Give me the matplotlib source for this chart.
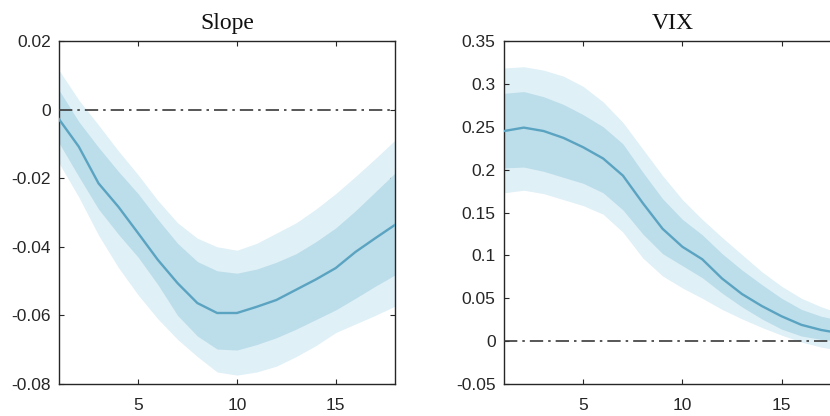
import matplotlib
matplotlib.use("Agg")
import matplotlib.pyplot as plt
import numpy as np

# ---------------- data ----------------
horizon = list(range(1, 19))

slope_median = [-0.0028, -0.0108, -0.0215, -0.0283, -0.0360, -0.0438, -0.0506, -0.0564, -0.0593,
                -0.0593, -0.0575, -0.0555, -0.0525, -0.0495, -0.0462, -0.0415, -0.0375, -0.0336]
slope_inner_hi = [0.0057, -0.0035, -0.0110, -0.0180, -0.0245, -0.0320, -0.0390, -0.0443, -0.0470,
                  -0.0477, -0.0465, -0.0445, -0.0420, -0.0385, -0.0345, -0.0295, -0.0240, -0.0185]
slope_inner_lo = [-0.0097, -0.0195, -0.0290, -0.0363, -0.0430, -0.0510, -0.0600, -0.0660, -0.0698,
                  -0.0701, -0.0685, -0.0665, -0.0640, -0.0612, -0.0584, -0.0550, -0.0515, -0.0482]
slope_outer_hi = [0.0115, 0.0028, -0.0045, -0.0120, -0.0190, -0.0265, -0.0330, -0.0375, -0.0400,
                  -0.0410, -0.0390, -0.0360, -0.0330, -0.0290, -0.0245, -0.0195, -0.0143, -0.0089]
slope_outer_lo = [-0.0156, -0.0255, -0.0366, -0.0460, -0.0540, -0.0610, -0.0670, -0.0720, -0.0765,
                  -0.0774, -0.0765, -0.0748, -0.0720, -0.0688, -0.0650, -0.0625, -0.0600, -0.0573]

vix_median = [0.245, 0.249, 0.245, 0.237, 0.226, 0.213, 0.193, 0.161, 0.131,
              0.110, 0.0955, 0.073, 0.055, 0.041, 0.029, 0.019, 0.013, 0.009]
vix_inner_hi = [0.289, 0.291, 0.285, 0.276, 0.264, 0.250, 0.230, 0.197, 0.166,
                0.142, 0.124, 0.102, 0.083, 0.066, 0.050, 0.037, 0.029, 0.024]
vix_inner_lo = [0.202, 0.203, 0.198, 0.191, 0.184, 0.173, 0.153, 0.125, 0.102,
                0.088, 0.074, 0.056, 0.040, 0.026, 0.014, 0.006, 0.002, 0.000]
vix_outer_hi = [0.3185, 0.320, 0.316, 0.309, 0.297, 0.279, 0.255, 0.224, 0.193,
                0.165, 0.142, 0.121, 0.101, 0.081, 0.064, 0.050, 0.040, 0.032]
vix_outer_lo = [0.173, 0.176, 0.172, 0.165, 0.158, 0.148, 0.127, 0.097, 0.076,
                0.062, 0.050, 0.037, 0.026, 0.016, 0.007, -0.001, -0.007, -0.011]

titles = ["Slope", "VIX"]
x_ticks = [5, 10, 15]
x_ticklabels = ["5", "10", "15"]
slope_yticks = [0.02, 0.0, -0.02, -0.04, -0.06, -0.08]
slope_yticklabels = ["0.02", "0", "-0.02", "-0.04", "-0.06", "-0.08"]
vix_yticks = [0.35, 0.3, 0.25, 0.2, 0.15, 0.1, 0.05, 0.0, -0.05]
vix_yticklabels = ["0.35", "0.3", "0.25", "0.2", "0.15", "0.1", "0.05", "0", "-0.05"]

# ---------------- style ----------------
OUTER = "#dff0f7"
INNER = "#bcddea"
LINE = "#5aa3c1"
ZERO = "#3a3a3a"
AXC = "#262626"

fig = plt.figure(figsize=(8.3, 4.16), dpi=100)
W, H = 830, 416
def pos(l, t, r, b):
    return [l / W, 1 - b / H, (r - l) / W, (b - t) / H]

ax1 = fig.add_axes(pos(59, 41, 395, 384))
ax2 = fig.add_axes(pos(504, 41, 841, 384))

panels = [
    (ax1, slope_median, slope_inner_lo, slope_inner_hi, slope_outer_lo, slope_outer_hi,
     (-0.08, 0.02), slope_yticks, slope_yticklabels),
    (ax2, vix_median, vix_inner_lo, vix_inner_hi, vix_outer_lo, vix_outer_hi,
     (-0.05, 0.35), vix_yticks, vix_yticklabels),
]

for i, (ax, med, ilo, ihi, olo, ohi, ylim, yt, ytl) in enumerate(panels):
    ax.fill_between(horizon, olo, ohi, color=OUTER, linewidth=0, zorder=1)
    ax.fill_between(horizon, ilo, ihi, color=INNER, linewidth=0, zorder=2)
    ax.plot(horizon, med, color=LINE, linewidth=1.7, zorder=3)
    ax.axhline(0, color=ZERO, linewidth=1.2, linestyle=(0, (8, 3, 1.5, 3)), zorder=4)
    ax.set_xlim(1, 18)
    ax.set_ylim(*ylim)
    ax.set_xticks(x_ticks)
    ax.set_xticklabels(x_ticklabels)
    ax.set_yticks(yt)
    ax.set_yticklabels(ytl)
    ax.tick_params(direction="in", length=3.5, width=0.8, colors=AXC, labelsize=12.5,
                   top=True, right=True)
    ax.tick_params(axis="y", pad=6)
    ax.tick_params(axis="x", pad=10)
    for lab in ax.get_xticklabels() + ax.get_yticklabels():
        lab.set_fontfamily("Liberation Sans")
        lab.set_color(AXC)
    for sp in ax.spines.values():
        sp.set_color(AXC)
        sp.set_linewidth(1.0)
    ax.set_title(titles[i], fontfamily="Liberation Serif", fontsize=17, color="#111111", pad=9)

fig.savefig("out.png", dpi=100)
